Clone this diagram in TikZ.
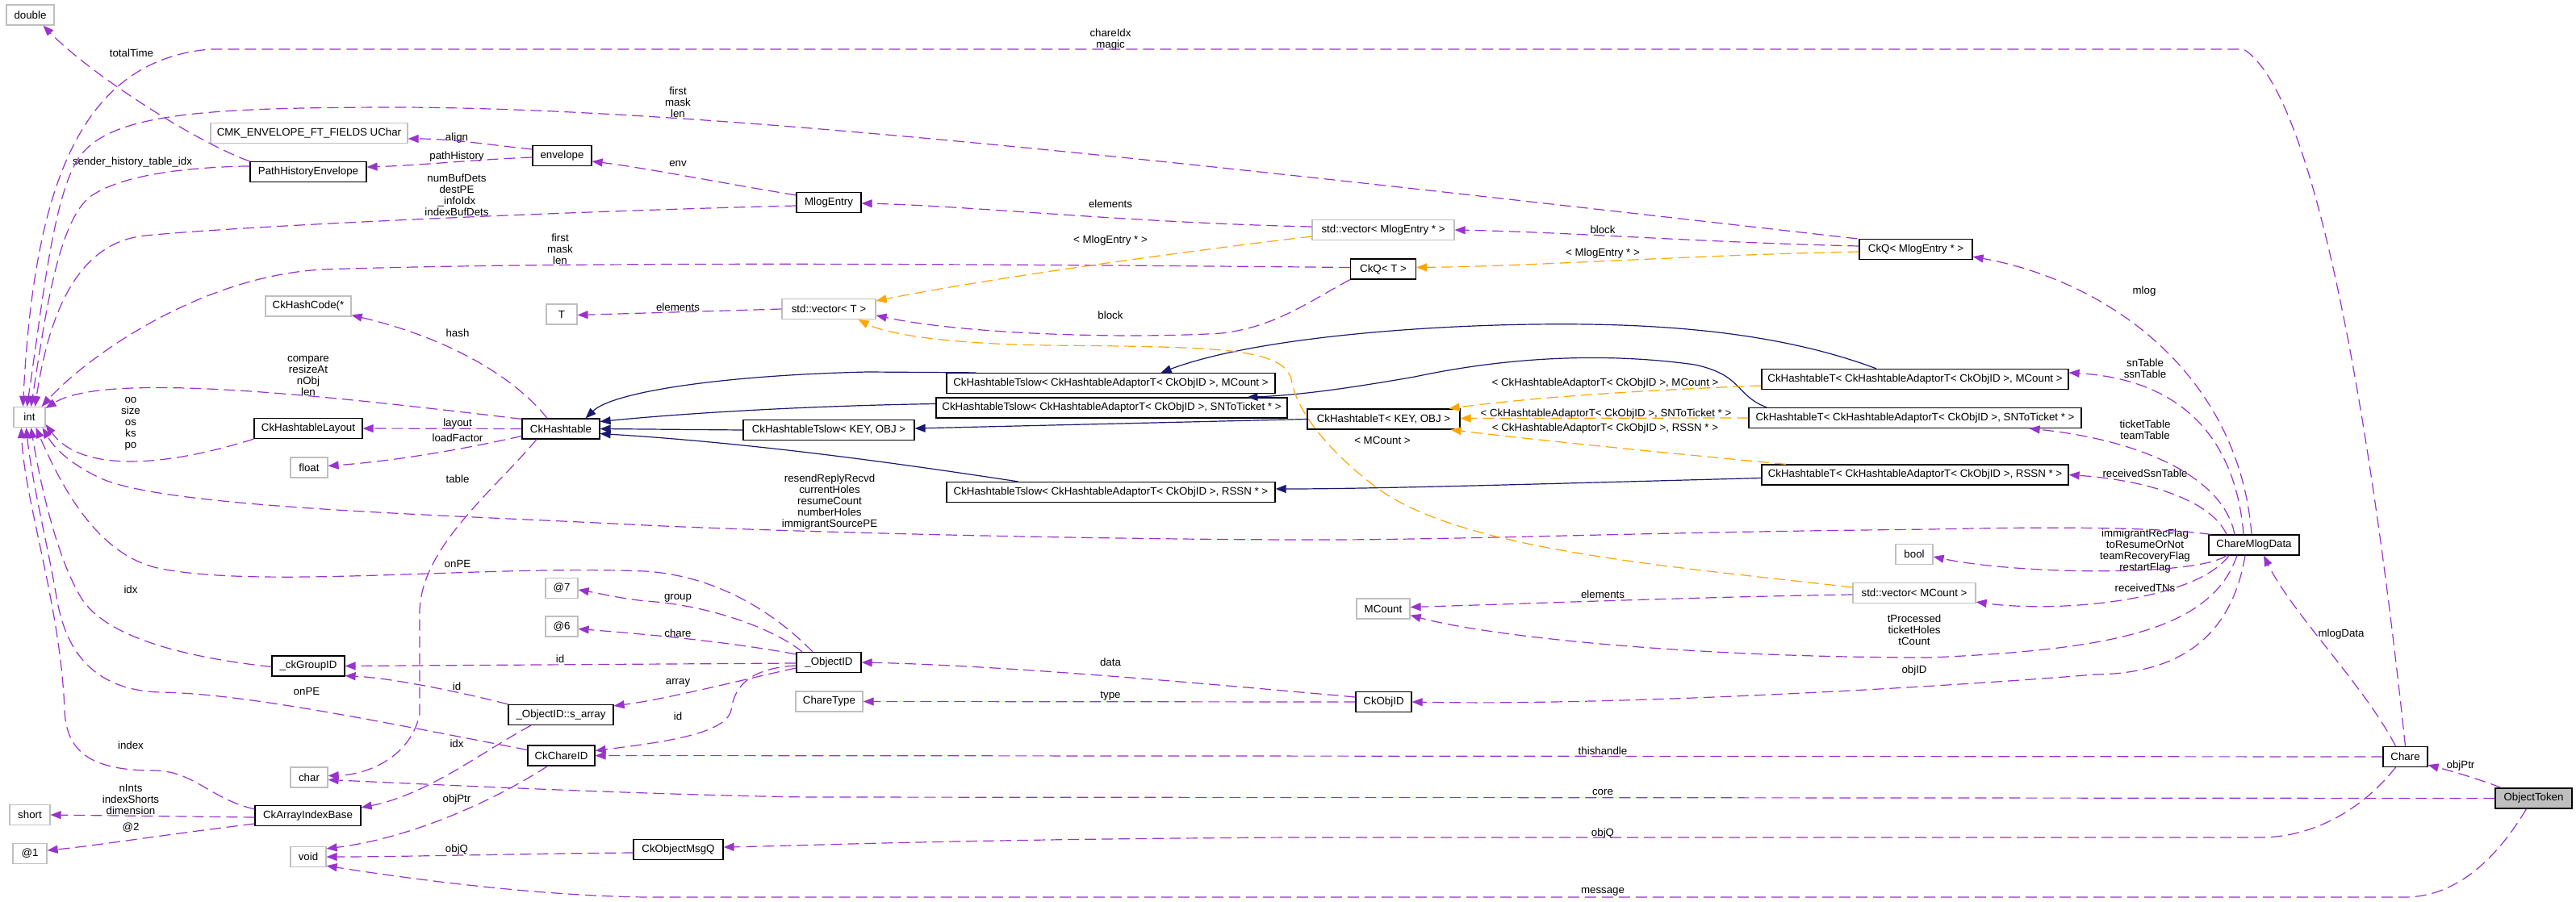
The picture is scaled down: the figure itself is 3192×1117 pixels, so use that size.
\documentclass[tikz,border=0pt]{standalone}
\usepackage{fontspec}
\setmainfont{Liberation Sans}
\usetikzlibrary{arrows.meta}
\definecolor{depc}{HTML}{9A32CD}
\definecolor{tplc}{HTML}{FFA500}
\definecolor{inhc}{HTML}{191970}
\definecolor{grayb}{HTML}{BFBFBF}
\newcommand\dxfont{\fontsize{13.3pt}{14pt}\selectfont}
\tikzset{
 cls/.style={draw=black, line width=1.2pt, fill=white, inner sep=0pt, minimum height=25pt, font=\dxfont},
 ext/.style={cls, draw=grayb},
 lbl/.style={inner sep=0pt, align=center, font=\dxfont},
 dep/.style={draw=depc, line width=1.2pt, dash pattern=on 14pt off 7pt, -{Triangle[length=13pt,width=10pt]}},
 tmpl/.style={dep, draw=tplc},
 inh/.style={draw=inhc, line width=1.2pt, -{Triangle[length=13pt,width=10pt]}},
}
\begin{document}
\begin{tikzpicture}[x=1pt,y=-1pt]
\fill[white] (0,0) rectangle (3192,1117);
\useasboundingbox (0,0) rectangle (3192,1117);
% ---------- nodes ----------
\node[ext, minimum width=59pt] (double) at (37.5,18.5) {double};
\node[ext, minimum width=244pt] (uchar) at (383,165) {CMK\_ENVELOPE\_FT\_FIELDS UChar};
\node[cls, minimum width=73pt] (envelope) at (696.5,193) {envelope};
\node[cls, minimum width=144pt] (phe) at (382,213) {PathHistoryEnvelope};
\node[cls, minimum width=80pt] (mlogentry) at (1027,251) {MlogEntry};
\node[ext, minimum width=176pt] (vecmlog) at (1714,285) {std::vector< MlogEntry * >};
\node[cls, minimum width=81pt] (ckqT) at (1714,333.5) {CkQ< T >};
\node[cls, minimum width=140pt] (ckqM) at (2374,309) {CkQ< MlogEntry * >};
\node[ext, minimum width=106pt] (hashcode) at (382,379.5) {CkHashCode(*};
\node[ext, minimum width=38pt] (T) at (696,389.5) {T};
\node[ext, minimum width=116pt] (vecT) at (1027,383) {std::vector< T >};
\node[ext, minimum width=39pt] (int) at (36.5,517) {int};
\node[cls, minimum width=134pt] (layout) at (382,531) {CkHashtableLayout};
\node[cls, minimum width=96pt] (hashtable) at (695,531.5) {CkHashtable};
\node[ext, minimum width=46pt] (float) at (383,579.5) {float};
\node[cls, minimum width=407pt] (tslowM) at (1376.5,475) {CkHashtableTslow< CkHashtableAdaptorT< CkObjID >, MCount >};
\node[cls, minimum width=435pt] (tslowS) at (1377.5,505.5) {CkHashtableTslow< CkHashtableAdaptorT< CkObjID >, SNToTicket * >};
\node[cls, minimum width=212pt] (tslowK) at (1027,533) {CkHashtableTslow< KEY, OBJ >};
\node[cls, minimum width=407pt] (tslowR) at (1376.5,610) {CkHashtableTslow< CkHashtableAdaptorT< CkObjID >, RSSN * >};
\node[cls, minimum width=189pt] (htK) at (1714.5,519.5) {CkHashtableT< KEY, OBJ >};
\node[cls, minimum width=380pt] (htM) at (2373,470) {CkHashtableT< CkHashtableAdaptorT< CkObjID >, MCount >};
\node[cls, minimum width=412pt] (htS) at (2373,518) {CkHashtableT< CkHashtableAdaptorT< CkObjID >, SNToTicket * >};
\node[cls, minimum width=380pt] (htR) at (2373,588.5) {CkHashtableT< CkHashtableAdaptorT< CkObjID >, RSSN * >};
\node[cls, minimum width=112pt] (cmd) at (2793,675.5) {ChareMlogData};
\node[ext, minimum width=46pt] (bool) at (2372,687) {bool};
\node[ext, minimum width=152pt] (vecMC) at (2372,735) {std::vector< MCount >};
\node[ext, minimum width=66pt] (mcount) at (1714,754.5) {MCount};
\node[ext, minimum width=40pt] (at7) at (696,729) {@7};
\node[ext, minimum width=40pt] (at6) at (696,776.5) {@6};
\node[cls, minimum width=90pt] (ckgroupid) at (382,825.5) {\_ckGroupID};
\node[cls, minimum width=80pt] (objectid) at (1027,821) {\_ObjectID};
\node[ext, minimum width=83pt] (chartype) at (1027.5,869.5) {ChareType};
\node[cls, minimum width=69pt] (ckobjid) at (1714.5,870) {CkObjID};
\node[cls, minimum width=130pt] (sarray) at (695,886) {\_ObjectID::s\_array};
\node[cls, minimum width=83pt] (chareid) at (695.5,936.5) {CkChareID};
\node[ext, minimum width=46pt] (char) at (383,963.5) {char};
\node[ext, minimum width=50pt] (short) at (37,1010) {short};
\node[cls, minimum width=131pt] (aib) at (381.5,1011) {CkArrayIndexBase};
\node[ext, minimum width=42pt] (at1) at (37,1058) {@1};
\node[ext, minimum width=44pt] (void) at (382,1062) {void};
\node[cls, minimum width=111pt] (msgq) at (840.5,1053) {CkObjectMsgQ};
\node[cls, minimum width=55pt] (chare) at (2980.5,938) {Chare};
\node[cls, minimum width=95pt, fill=grayb] (objtoken) at (3139.5,989.5) {ObjectToken};
% ---------- labels ----------
\node[lbl] (l_totalTime) at (163,66) {totalTime};
\node[lbl] (l_sender) at (164,201) {sender\_history\_table\_idx};
\node[lbl] (l_align) at (566,171) {align};
\node[lbl] (l_path) at (566,194) {pathHistory};
\node[lbl] (l_numbuf) at (566,242) {numBufDets\\destPE\\\_infoIdx\\indexBufDets};
\node[lbl] (l_first2) at (694,309) {first\\mask\\len};
\node[lbl] (l_chareidx) at (1376,49) {chareIdx\\magic};
\node[lbl] (l_first1) at (840,127) {first\\mask\\len};
\node[lbl] (l_env) at (840,203) {env};
\node[lbl] (l_elem1) at (1376,253) {elements};
\node[lbl] (l_tm1) at (1376,298) {< MlogEntry * >};
\node[lbl] (l_block1) at (1986,285) {block};
\node[lbl] (l_tm2) at (1986,314) {< MlogEntry * >};
\node[lbl] (l_mlog) at (2657,361) {mlog};
\node[lbl] (l_hash) at (567,413) {hash};
\node[lbl] (l_compare) at (382,466) {compare\\resizeAt\\nObj\\len};
\node[lbl] (l_oo) at (162,525) {oo\\size\\os\\ks\\po};
\node[lbl] (l_layout) at (567,525) {layout};
\node[lbl] (l_load) at (567,543) {loadFactor};
\node[lbl] (l_table) at (567,594) {table};
\node[lbl] (l_onpe1) at (567,699) {onPE};
\node[lbl] (l_idx1) at (162,731) {idx};
\node[lbl] (l_elem2) at (840,381) {elements};
\node[lbl] (l_block2) at (1376,391) {block};
\node[lbl] (l_resend) at (1028,622) {resendReplyRecvd\\currentHoles\\resumeCount\\numberHoles\\immigrantSourcePE};
\node[lbl] (l_group) at (840,741) {group};
\node[lbl] (l_tM) at (1989,475) {< CkHashtableAdaptorT< CkObjID >, MCount >};
\node[lbl] (l_tS) at (1990,513) {< CkHashtableAdaptorT< CkObjID >, SNToTicket * >};
\node[lbl] (l_tR) at (1989,531) {< CkHashtableAdaptorT< CkObjID >, RSSN * >};
\node[lbl] (l_tMC) at (1713,546) {< MCount >};
\node[lbl] (l_elem3) at (1986,737) {elements};
\node[lbl] (l_sn) at (2658,457) {snTable\\ssnTable};
\node[lbl] (l_ticket) at (2658,533) {ticketTable\\teamTable};
\node[lbl] (l_rssn) at (2658,587) {receivedSsnTable};
\node[lbl] (l_flags) at (2658,683) {immigrantRecFlag\\toResumeOrNot\\teamRecoveryFlag\\restartFlag};
\node[lbl] (l_rtn) at (2658,729) {receivedTNs};
\node[lbl] (l_tproc) at (2372,781) {tProcessed\\ticketHoles\\tCount};
\node[lbl] (l_objid) at (2372,831) {objID};
\node[lbl] (l_id1) at (694,817) {id};
\node[lbl] (l_id2) at (566,851) {id};
\node[lbl] (l_onpe2) at (380,857) {onPE};
\node[lbl] (l_index) at (162,924) {index};
\node[lbl] (l_idx2) at (566,922) {idx};
\node[lbl] (l_nints) at (162,991) {nInts\\indexShorts\\dimension};
\node[lbl] (l_objptr1) at (566,991) {objPtr};
\node[lbl] (l_at2) at (162,1026) {@2};
\node[lbl] (l_objq1) at (566,1053) {objQ};
\node[lbl] (l_data) at (1376,821) {data};
\node[lbl] (l_type) at (1376,863) {type};
\node[lbl] (l_chare) at (840,785) {chare};
\node[lbl] (l_array) at (840,846) {array};
\node[lbl] (l_id3) at (840,888) {id};
\node[lbl] (l_this) at (1986,931) {thishandle};
\node[lbl] (l_core) at (1986,982) {core};
\node[lbl] (l_objq2) at (1986,1033) {objQ};
\node[lbl] (l_msg) at (1986,1105) {message};
\node[lbl] (l_mlogdata) at (2901,786) {mlogData};
\node[lbl] (l_objptr2) at (3049,949) {objPtr};
% ---------- edges into int ----------
\draw[dep] (chare.north) .. controls (2930,450) and (2860,110) .. (2780,61) -- (260,61) .. controls (100,75) and (42,230) .. ([xshift=12pt]int.north west);
\draw[dep] ([xshift=-2pt]ckqM.north west) .. controls (1500,205) and (900,135) .. (500,133) .. controls (250,133) and (130,140) .. (95,200) .. controls (65,250) and (52,380) .. ([xshift=17pt]int.north west);
\draw[dep] ([yshift=-6pt]phe.north west) .. controls (240,207) and (150,215) .. (110,245) .. controls (70,280) and (55,400) .. ([xshift=22pt]int.north west);
\draw[dep] ([yshift=-4pt]mlogentry.west) .. controls (700,262) and (300,280) .. (180,292) .. controls (100,300) and (62,380) .. ([xshift=27pt]int.north west);
\draw[dep] ([yshift=2pt]ckqT.west) .. controls (1200,327) and (700,324) .. (400,334) .. controls (250,342) and (110,440) .. ([xshift=-5pt]int.north east);
\draw[dep] ([yshift=-1pt]hashtable.north west) .. controls (400,490) and (130,460) .. ([yshift=-2pt]int.north east);
\draw[dep] (layout.south west) .. controls (200,580) and (100,585) .. ([yshift=4pt]int.south east);
\draw[dep] ([xshift=3pt]cmd.north west) .. controls (2650,650) and (2450,655) .. (2392,656) .. controls (2000,660) and (1800,670) .. (1600,669) .. controls (1300,668) and (950,658) .. (800,651) .. controls (550,638) and (220,630) .. (130,595) .. controls (95,580) and (70,560) .. ([xshift=-4pt]int.south east);
\draw[dep] ([xshift=-20pt]objectid.north) .. controls (970,770) and (900,715) .. (800,708) .. controls (600,700) and (330,730) .. (200,705) .. controls (120,690) and (75,600) .. ([xshift=28pt]int.south west);
\draw[dep] ([yshift=-1pt]ckgroupid.west) .. controls (230,815) and (130,790) .. (100,740) .. controls (70,690) and (50,600) .. ([xshift=22pt]int.south west);
\draw[dep] ([yshift=7pt]chareid.west) .. controls (450,890) and (300,860) .. (200,858) .. controls (110,856) and (80,800) .. (70,740) .. controls (60,680) and (40,600) .. ([xshift=16pt]int.south west);
\draw[dep] ([yshift=-5pt]aib.north west) .. controls (260,990) and (240,955) .. (190,955) .. controls (110,955) and (82,930) .. (80,880) .. controls (75,750) and (30,620) .. ([xshift=10pt]int.south west);
% ---------- other edges ----------
\draw[dep] (phe.north west) .. controls (240,175) and (110,90) .. ([xshift=16pt]double.south);
\draw[dep] ([yshift=8pt]envelope.west) .. controls (610,180) and (560,172) .. ([yshift=-7pt]uchar.east);
\draw[dep] ([yshift=-2pt]envelope.west) .. controls (600,197) and (520,205) .. ([yshift=6pt]phe.east);
\draw[dep] ([yshift=-4pt]mlogentry.north west) .. controls (900,228) and (800,208) .. ([yshift=-7pt]envelope.east);
\draw[dep] ([yshift=4pt]vecmlog.west) .. controls (1400,276) and (1200,255) .. ([yshift=-1pt]mlogentry.east);
\draw[dep] ([yshift=4pt]ckqM.west) .. controls (2100,300) and (1950,288) .. (vecmlog.east);
\draw[tmpl] ([yshift=-3pt]ckqM.west) .. controls (2100,316) and (1900,330) .. ([yshift=2pt]ckqT.east);
\draw[dep] ([xshift=-3pt]cmd.north) .. controls (2775,470) and (2620,350) .. ([yshift=4pt]ckqM.south east);
\draw[dep] ([xshift=-13pt]cmd.north) .. controls (2770,540) and (2700,470) .. ([yshift=8pt]htM.east);
\draw[dep] ([xshift=-24pt]cmd.north) .. controls (2755,590) and (2650,545) .. ([xshift=-65pt]htS.south east);
\draw[dep] ([xshift=-34pt]cmd.north) .. controls (2740,620) and (2660,595) .. (htR.east);
\draw[dep] ([xshift=-34pt]cmd.south) .. controls (2720,715) and (2500,712) .. ([yshift=-3pt]bool.east);
\draw[dep] ([xshift=-31pt]cmd.south) .. controls (2720,745) and (2550,760) .. ([yshift=2pt]vecMC.south east);
\draw[dep] ([xshift=-21pt]cmd.south) .. controls (2740,780) and (2620,805) .. (2392,815) .. controls (2100,815) and (1850,790) .. ([yshift=5pt]mcount.south east);
\draw[dep] ([xshift=-11pt]cmd.south) .. controls (2765,790) and (2700,835) .. (2596,836) .. controls (2400,852) and (2000,875) .. (ckobjid.east);
\draw[dep] ([yshift=-2pt]vecMC.west) .. controls (2100,740) and (1900,748) .. ([yshift=2pt]mcount.east);
\draw[dep] ([yshift=6pt]ckobjid.west) .. controls (1500,848) and (1250,825) .. (objectid.east);
\draw[dep] (ckobjid.west) -- (chartype.east);
\draw[dep] ([xshift=-33pt]objectid.north) .. controls (960,780) and (880,750) .. (800,745) .. controls (770,742) and (740,735) .. ([yshift=-2pt]at7.east);
\draw[dep] ([yshift=-3pt]objectid.north west) .. controls (900,795) and (800,786) .. ([yshift=-3pt]at6.east);
\draw[dep] ([yshift=-1pt]objectid.west) -- (ckgroupid.east);
\draw[dep] ([yshift=-7pt]objectid.west) .. controls (930,840) and (830,866) .. ([yshift=-2pt]sarray.north east);
\draw[dep] ([yshift=-4pt]objectid.west) .. controls (930,828) and (910,850) .. (906,880) .. controls (900,910) and (820,920) .. ([yshift=6pt]chareid.east);
\draw[dep] (chare.west) -- (chareid.east);
\draw[dep] (sarray.north west) .. controls (560,855) and (480,840) .. ([yshift=1pt]ckgroupid.south east);
\draw[dep] ([xshift=-37pt]sarray.south) .. controls (600,930) and (530,985) .. ([yshift=-3pt]aib.north east);
\draw[dep] ([xshift=-17pt]chareid.south) .. controls (600,1000) and (500,1040) .. ([yshift=-3pt]void.north east);
\draw[dep] ([yshift=-4pt]msgq.west) .. controls (650,1058) and (500,1062) .. (void.east);
\draw[dep] ([xshift=-9pt]objtoken.south) .. controls (3090,1070) and (3040,1112) .. (2979,1112) -- (800,1112) .. controls (650,1110) and (480,1085) .. ([yshift=2pt]void.south east);
\draw[dep] (objtoken.west) -- (1000,988) .. controls (800,985) and (550,973) .. ([yshift=-3pt]char.east);
\draw[dep] ([xshift=8pt]objtoken.north west) .. controls (3070,965) and (3035,955) .. ([yshift=3pt]chare.south east);
\draw[dep] ([xshift=-12pt]chare.north) .. controls (2930,850) and (2840,760) .. ([xshift=12pt]cmd.south);
\draw[dep] ([xshift=-12pt]chare.south) .. controls (2930,1000) and (2870,1038) .. (2800,1038) -- (1600,1038) .. controls (1200,1040) and (1000,1048) .. ([yshift=3pt]msgq.east);
\draw[dep] ([xshift=-17pt]hashtable.north) .. controls (640,470) and (560,420) .. ([yshift=2pt]hashcode.south east);
\draw[dep] (hashtable.west) -- (layout.east);
\draw[dep] ([yshift=-9pt]hashtable.west) .. controls (560,560) and (480,572) .. ([yshift=2pt]float.east);
\draw[dep] ([xshift=-30pt]hashtable.south) .. controls (610,610) and (520,680) .. (520,760) -- (520,885) .. controls (510,935) and (460,960) .. ([yshift=2pt]char.east);
\draw[dep] (ckqT.south west) .. controls (1620,375) and (1580,405) .. (1514,413) .. controls (1400,420) and (1200,415) .. ([yshift=-8pt]vecT.east);
\draw[dep] (vecT.west) -- ([yshift=-1pt]T.east);
\draw[dep] ([yshift=-2pt]aib.west) -- (short.east);
\draw[dep] ([yshift=-10pt]aib.west) .. controls (200,1035) and (120,1048) .. ([yshift=4pt]at1.east);
% ---------- inheritance ----------
\draw[inh] ([xshift=-167pt]tslowM.north) -- (1075,461) .. controls (900,465) and (760,485) .. ([xshift=-18pt]hashtable.north east);
\draw[inh] ([yshift=5pt]tslowS.west) .. controls (1000,503) and (850,512) .. ([yshift=9pt]hashtable.east);
\draw[inh] (tslowK.west) -- (hashtable.east);
\draw[inh] ([xshift=-115pt]tslowR.north) .. controls (1150,580) and (950,550) .. ([yshift=-6pt]hashtable.east);
\draw[inh] ([xshift=-48pt]htM.north) .. controls (2200,410) and (2050,400) .. (1900,402) .. controls (1750,404) and (1550,420) .. ([xshift=62pt]tslowM.north);
\draw[inh] ([xshift=-184pt]htS.north) .. controls (2150,490) and (2160,465) .. (2100,452) .. controls (2000,438) and (1880,440) .. (1753,467) .. controls (1650,485) and (1600,490) .. ([xshift=168pt]tslowS.north);
\draw[inh] (htK.west) -- ([yshift=2pt]tslowK.east);
\draw[inh] ([yshift=-4pt]htR.west) .. controls (1900,600) and (1700,606) .. ([yshift=4pt]tslowR.east);
% ---------- template instances ----------
\draw[tmpl] ([yshift=-8pt]htM.west) .. controls (2000,485) and (1880,495) .. ([xshift=-14pt]htK.north east);
\draw[tmpl] (htS.west) -- ([yshift=1pt]htK.east);
\draw[tmpl] ([xshift=-160pt]htR.north) .. controls (2050,560) and (1900,545) .. ([xshift=-12pt]htK.south east);
\draw[tmpl] ([yshift=7pt]vecMC.west) .. controls (2050,700) and (1800,680) .. (1700,600) .. controls (1630,545) and (1605,500) .. (1600,470) .. controls (1590,430) and (1500,430) .. (1300,428) .. controls (1150,426) and (1090,410) .. ([xshift=-22pt]vecT.south east);
\draw[tmpl] ([yshift=-8pt]vecmlog.west) .. controls (1400,320) and (1200,350) .. ([yshift=-3pt]vecT.north east);
\end{tikzpicture}
\end{document}
